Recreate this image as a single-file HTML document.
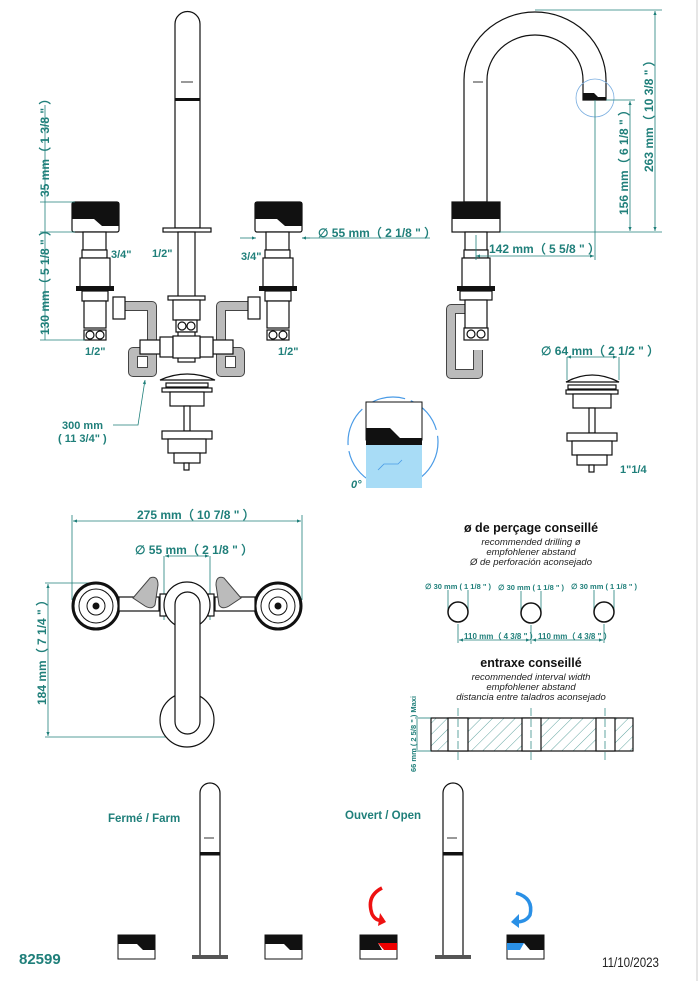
<!DOCTYPE html>
<html><head><meta charset="utf-8"><style>
html,body{margin:0;padding:0;background:#fff;}
svg{display:block;font-family:"Liberation Sans",sans-serif;}
.t{fill:#1f7f7a;font-weight:bold;}
.ln{stroke:#1f7f7a;stroke-width:0.8;fill:none;}
.o{stroke:#111;stroke-width:1.2;fill:#fff;}
.g{stroke:#444;stroke-width:1;fill:#bbb;}
.k{fill:#111;}
.ho{stroke:#444;stroke-width:10;fill:none;stroke-linejoin:round;stroke-linecap:butt;}
.hi{stroke:#bbb;stroke-width:8;fill:none;stroke-linejoin:round;stroke-linecap:butt;}
</style></head><body>
<svg width="700" height="981" viewBox="0 0 700 981" xmlns="http://www.w3.org/2000/svg">
<defs>
<marker id="a" viewBox="0 0 10 10" refX="10" refY="5" markerWidth="7" markerHeight="5" orient="auto-start-reverse"><path d="M0,1 L10,5 L0,9z" fill="#1f7f7a"/></marker>
<pattern id="h" width="8" height="8" patternUnits="userSpaceOnUse" patternTransform="rotate(45)"><line x1="0" y1="0" x2="0" y2="8" stroke="#1f7f7a" stroke-width="0.7"/></pattern>
</defs>
<line x1="697" y1="0" x2="697" y2="981" stroke="#ccc" stroke-width="1"/>

<!-- ===== FRONT VIEW ===== -->
<path class="o" d="M175,228 V24 A12.5,12.5 0 0 1 200,24 V228 Z"/>
<line x1="181" y1="82" x2="193" y2="82" stroke="#333"/>
<rect x="175" y="98" width="25" height="3" class="k"/>
<rect class="o" x="163" y="228" width="48" height="4"/>
<rect class="o" x="178" y="232" width="17" height="65"/>
<rect class="o" x="168" y="296" width="37" height="4"/>
<rect class="o" x="173" y="300" width="27" height="20"/>
<rect class="o" x="176" y="320" width="21" height="12"/>
<circle class="o" cx="182" cy="326" r="4"/><circle class="o" cx="191" cy="326" r="4"/>
<rect class="o" x="178" y="332" width="17" height="30"/>
<!-- hoses -->
<path class="ho" d="M125,306 H152 V372 H133 V352 H150"/>
<path class="hi" d="M125,306 H152 V372 H133 V352 H150"/>
<path class="ho" d="M248,306 H221 V372 H240 V352 H223"/>
<path class="hi" d="M248,306 H221 V372 H240 V352 H223"/>
<rect class="o" x="140" y="340" width="20" height="14"/><rect class="o" x="160" y="337" width="13" height="20"/>
<rect class="o" x="213" y="340" width="20" height="14"/><rect class="o" x="200" y="337" width="13" height="20"/>
<rect class="o" x="173" y="336" width="27" height="22"/>
<rect class="o" x="113" y="297" width="12" height="22"/><rect class="o" x="248" y="297" width="12" height="22"/>
<!-- left valve -->
<g id="valve">
<rect x="72" y="202" width="47" height="30" rx="2" class="o"/>
<path class="k" d="M72,202 H119 V226 H102 L94,219 H72 Z"/>
<rect class="o" x="83" y="232" width="23" height="18"/>
<rect class="o" x="82" y="250" width="25" height="8"/>
<rect class="o" x="80" y="258" width="30" height="29"/>
<rect x="76" y="286" width="38" height="5" class="k"/>
<rect class="o" x="82" y="291" width="26" height="10"/>
<rect class="o" x="84" y="301" width="22" height="27"/>
<rect class="o" x="84" y="330" width="22" height="10"/>
<circle class="o" cx="90" cy="335" r="4"/><circle class="o" cx="100" cy="335" r="4"/>
</g>
<use href="#valve" x="183"/>
<!-- drain -->
<path class="o" d="M160,380 Q187,368 215,380 Z"/>
<rect class="o" x="166" y="383" width="42" height="4"/>
<rect class="o" x="162" y="388" width="50" height="4"/>
<rect class="o" x="170" y="392" width="34" height="14"/>
<rect class="o" x="184" y="406" width="6" height="25"/>
<rect class="o" x="162" y="431" width="50" height="8"/>
<rect class="o" x="168" y="439" width="38" height="14"/>
<rect class="o" x="174" y="453" width="26" height="10"/>
<rect class="o" x="184" y="463" width="5" height="7"/>
<!-- front dims -->
<line class="ln" x1="45" y1="105" x2="45" y2="340"/>
<line class="ln" x1="40" y1="202" x2="75" y2="202"/>
<line class="ln" x1="40" y1="232" x2="75" y2="232"/>
<line class="ln" x1="40" y1="340" x2="85" y2="340"/>
<text class="t" font-size="12" transform="translate(49,197) rotate(-90)">35 mm（ 1 3/8 " ）</text>
<text class="t" font-size="12" transform="translate(49,335) rotate(-90)">130 mm（ 5 1/8 " ）</text>
<text class="t" font-size="11" x="111" y="258">3/4"</text>
<text class="t" font-size="11" x="152" y="257">1/2"</text>
<text class="t" font-size="11" x="241" y="260">3/4"</text>
<text class="t" font-size="11" x="85" y="355">1/2"</text>
<text class="t" font-size="11" x="278" y="355">1/2"</text>
<text class="t" font-size="11" x="62" y="429">300 mm</text>
<text class="t" font-size="11" x="58" y="442">( 11 3/4" )</text>
<polyline class="ln" points="113,425 138,425 145,380" marker-end="url(#a)"/>
<line class="ln" x1="240" y1="238" x2="256" y2="238" marker-end="url(#a)"/>
<line class="ln" x1="302" y1="238" x2="430" y2="238"/>
<line class="ln" x1="302" y1="238" x2="310" y2="238" marker-start="url(#a)"/>
<text class="t" font-size="12" x="318" y="237">∅ 55 mm（ 2 1/8 " ）</text>

<!-- ===== SIDE VIEW ===== -->
<path class="o" d="M464,202 V80 A71,68 0 0 1 606,80 V100 H583 V80 A48,45 0 0 0 487,80 V202 Z"/>
<line x1="473" y1="82" x2="483" y2="82" stroke="#333"/>
<path class="k" d="M583,93 H594 L598,97 H606 V100 H583Z"/>
<circle cx="595" cy="98" r="19" fill="none" stroke="#7aaee0" stroke-width="0.8"/>
<rect x="452" y="202" width="48" height="30" class="o"/>
<rect x="452" y="202" width="48" height="17" class="k"/>
<rect class="o" x="465" y="232" width="22" height="18"/>
<rect class="o" x="464" y="250" width="24" height="8"/>
<rect class="o" x="462" y="258" width="28" height="29"/>
<rect x="457" y="286" width="38" height="5" class="k"/>
<rect class="o" x="460" y="291" width="32" height="9"/>
<path class="ho" d="M465,309 H451 V374 H478 V350"/>
<path class="hi" d="M465,309 H451 V374 H478 V350"/>
<rect class="o" x="465" y="300" width="22" height="28"/>
<rect class="o" x="464" y="328" width="24" height="12"/>
<circle class="o" cx="471" cy="334" r="4"/><circle class="o" cx="481" cy="334" r="4"/>
<!-- side dims -->
<line class="ln" x1="535" y1="10" x2="662" y2="10"/>
<line class="ln" x1="500" y1="232" x2="662" y2="232"/>
<line class="ln" x1="606" y1="100" x2="635" y2="100"/>
<line class="ln" x1="655" y1="11" x2="655" y2="231" marker-start="url(#a)" marker-end="url(#a)"/>
<line class="ln" x1="630" y1="101" x2="630" y2="231" marker-start="url(#a)" marker-end="url(#a)"/>
<text class="t" font-size="12" transform="translate(653,172) rotate(-90)">263 mm（ 10 3/8 " ）</text>
<text class="t" font-size="12" transform="translate(628,215) rotate(-90)">156 mm（ 6 1/8 " ）</text>
<line class="ln" x1="595" y1="100" x2="595" y2="260"/>
<line class="ln" x1="476" y1="235" x2="476" y2="260"/>
<line class="ln" x1="476" y1="256" x2="594" y2="256" marker-start="url(#a)" marker-end="url(#a)"/>
<text class="t" font-size="12" x="489" y="253">142 mm（ 5 5/8 " ）</text>
<!-- right drain -->
<text class="t" font-size="12" x="541" y="355">∅ 64 mm（ 2 1/2 " ）</text>
<line class="ln" x1="567" y1="357" x2="617" y2="357" marker-start="url(#a)" marker-end="url(#a)"/>
<line class="ln" x1="567" y1="357" x2="567" y2="380"/><line class="ln" x1="619" y1="357" x2="619" y2="380"/>
<path class="o" d="M566,382 Q592,368 619,382 Z"/>
<rect class="o" x="568" y="385" width="48" height="4"/>
<rect class="o" x="566" y="390" width="52" height="4"/>
<rect class="o" x="573" y="394" width="38" height="14"/>
<rect class="o" x="589" y="408" width="6" height="25"/>
<rect class="o" x="567" y="433" width="50" height="8"/>
<rect class="o" x="572" y="441" width="40" height="14"/>
<rect class="o" x="577" y="455" width="30" height="10"/>
<rect class="o" x="589" y="465" width="5" height="7"/>
<text class="t" font-size="11" x="620" y="473">1"1/4</text>
<!-- detail circle -->
<circle cx="393" cy="442" r="45" fill="none" stroke="#4a9be6" stroke-width="1.2" stroke-dasharray="40 6"/>
<rect x="366" y="440" width="56" height="48" fill="#a8dcf6"/>
<rect x="366" y="402" width="56" height="38" fill="#fff" stroke="#111"/>
<path class="k" d="M366,428 H390 L400,438 H422 V445 H366Z"/>
<path d="M378,470 L384,464 H398 L402,460" stroke="#4a9be6" fill="none" stroke-width="0.8"/>
<text x="351" y="488" font-size="11" font-style="italic" font-weight="bold" fill="#1f7f7a">0°</text>

<!-- ===== PLAN VIEW ===== -->
<line class="ln" x1="72" y1="515" x2="72" y2="600"/><line class="ln" x1="302" y1="515" x2="302" y2="600"/>
<line class="ln" x1="73" y1="521" x2="301" y2="521" marker-start="url(#a)" marker-end="url(#a)"/>
<text class="t" font-size="12" x="137" y="519">275 mm（ 10 7/8 " ）</text>
<line class="ln" x1="164" y1="556" x2="164" y2="620"/><line class="ln" x1="210" y1="556" x2="210" y2="620"/>
<line class="ln" x1="165" y1="556" x2="209" y2="556" marker-start="url(#a)" marker-end="url(#a)"/>
<text class="t" font-size="12" x="135" y="554">∅ 55 mm（ 2 1/8 " ）</text>
<line class="ln" x1="45" y1="583" x2="95" y2="583"/>
<line class="ln" x1="45" y1="737" x2="187" y2="737"/>
<line class="ln" x1="48" y1="584" x2="48" y2="736" marker-start="url(#a)" marker-end="url(#a)"/>
<text class="t" font-size="12" transform="translate(46,705) rotate(-90)">184 mm（ 7 1/4 " ）</text>
<g id="knob">
<circle cx="96" cy="606" r="23" fill="#fff" stroke="#111" stroke-width="3"/>
<circle cx="96" cy="606" r="17" fill="none" stroke="#111" stroke-width="1"/>
<circle cx="96" cy="606" r="9" fill="none" stroke="#111" stroke-width="1"/>
<circle cx="96" cy="606" r="3.5" class="k"/>
</g>
<use href="#knob" x="182"/>
<rect class="o" x="119" y="597" width="40" height="14"/><rect class="o" x="215" y="597" width="40" height="14"/>
<rect class="o" x="160" y="594" width="6" height="22"/><rect class="o" x="208" y="594" width="6" height="22"/>
<path class="g" d="M133,598 L150,578 Q158,575 158,585 L155,605 Q152,610 145,606 Z"/>
<path class="g" d="M241,598 L224,578 Q216,575 216,585 L219,605 Q222,610 229,606 Z"/>
<circle class="o" cx="187" cy="720" r="27"/>
<circle class="o" cx="187" cy="605" r="23"/>
<rect class="o" x="175" y="592" width="25" height="142" rx="12.5"/>

<!-- ===== DRILLING ===== -->
<text x="531" y="532" font-size="12.5" font-weight="bold" text-anchor="middle" fill="#111">ø de perçage conseillé</text>
<g font-size="9.5" font-style="italic" text-anchor="middle" fill="#222">
<text x="531" y="545">recommended drilling ø</text>
<text x="531" y="555">empfohlener abstand</text>
<text x="531" y="565">Ø de perforación aconsejado</text>
<text x="531" y="680">recommended interval width</text>
<text x="531" y="690">empfohlener abstand</text>
<text x="531" y="700">distancia entre taladros aconsejado</text>
</g>
<text x="531" y="667" font-size="12.5" font-weight="bold" text-anchor="middle" fill="#111">entraxe conseillé</text>
<g id="hole">
<text x="425" y="589" font-size="7.5" class="t">∅ <tspan font-weight="bold">30 mm ( 1 1/8 " )</tspan></text>
<line class="ln" x1="448" y1="590" x2="448" y2="610"/><line class="ln" x1="468" y1="590" x2="468" y2="610"/>
<circle cx="458" cy="612" r="10" fill="#fff" stroke="#111" stroke-width="1.5"/>
<line class="ln" x1="458" y1="624" x2="458" y2="643"/>
</g>
<use href="#hole" x="73" y="1"/><use href="#hole" x="146"/>
<line class="ln" x1="459" y1="640" x2="530" y2="640" marker-start="url(#a)" marker-end="url(#a)"/>
<line class="ln" x1="532" y1="640" x2="603" y2="640" marker-start="url(#a)" marker-end="url(#a)"/>
<text class="t" font-size="8" x="464" y="639">110 mm（ 4 3/8 " ）</text>
<text class="t" font-size="8" x="538" y="639">110 mm（ 4 3/8 " ）</text>
<rect x="431" y="718" width="202" height="33" fill="url(#h)" stroke="#111" stroke-width="1.2"/>
<rect x="448" y="718" width="20" height="33" fill="#fff" stroke="#111" stroke-width="1.2"/>
<rect x="522" y="718" width="19" height="33" fill="#fff" stroke="#111" stroke-width="1.2"/>
<rect x="596" y="718" width="19" height="33" fill="#fff" stroke="#111" stroke-width="1.2"/>
<g stroke="#1f7f7a" stroke-width="0.7" stroke-dasharray="8 3"><line x1="458" y1="708" x2="458" y2="762"/><line x1="531" y1="708" x2="531" y2="762"/><line x1="605" y1="708" x2="605" y2="762"/></g>
<line class="ln" x1="415" y1="718" x2="431" y2="718"/><line class="ln" x1="415" y1="751" x2="431" y2="751"/>
<line class="ln" x1="417" y1="719" x2="417" y2="750"/>
<text class="t" font-size="7.5" transform="translate(416,772) rotate(-90)">66 mm ( 2 5/8 " ) Maxi</text>

<!-- ===== BOTTOM ===== -->
<text class="t" font-size="11.5" x="108" y="822">Fermé / Farm</text>
<text class="t" font-size="11.5" x="345" y="819">Ouvert / Open</text>
<g id="sp">
<path class="o" d="M200,957 V793 A10,10 0 0 1 220,793 V957 Z"/>
<line x1="204" y1="838" x2="214" y2="838" stroke="#333"/>
<rect x="200" y="852" width="20" height="3.5" class="k"/>
<rect x="192" y="955" width="36" height="4" fill="#555"/>
</g>
<use href="#sp" x="243"/>
<g id="hd">
<rect x="118" y="935" width="37" height="24" fill="#fff" stroke="#111"/>
<path class="k" d="M118,935 H155 V950 H143 L137,944 H118Z"/>
</g>
<use href="#hd" x="147"/>
<g>
<rect x="360" y="935" width="37" height="24" fill="#fff" stroke="#111"/>
<path class="k" d="M360,935 H397 V950 H396 V943 H378 L382,950 H360Z" />
<path class="k" d="M360,935 H397 V943 H360Z"/>
<path d="M378,943 H397 V950 H384 Z" fill="#e00"/>
<path d="M360,950 H384 L378,943 H397" fill="none"/>
</g>
<g>
<rect x="507" y="935" width="37" height="24" fill="#fff" stroke="#111"/>
<path class="k" d="M507,935 H544 V950 H530 L524,943 H507Z"/>
<path d="M507,943 H524 L520,950 H507Z" fill="#2a90e6"/>
</g>
<path d="M382,888 Q366,896 372,914 Q376,922 384,920" stroke="#e11" stroke-width="3.5" fill="none"/>
<path d="M380,913 L386,922 L378,926Z" fill="#e11"/>
<path d="M516,893 Q534,898 530,915 Q526,922 516,922" stroke="#2a90e6" stroke-width="3.5" fill="none"/>
<path d="M519,914 L511,922 L519,928Z" fill="#2a90e6"/>
<text class="t" font-size="15" x="19" y="964">82599</text>
<text x="602" y="967" font-size="13.5" fill="#222" textLength="57" lengthAdjust="spacingAndGlyphs">11/10/2023</text>
</svg>
</body></html>
